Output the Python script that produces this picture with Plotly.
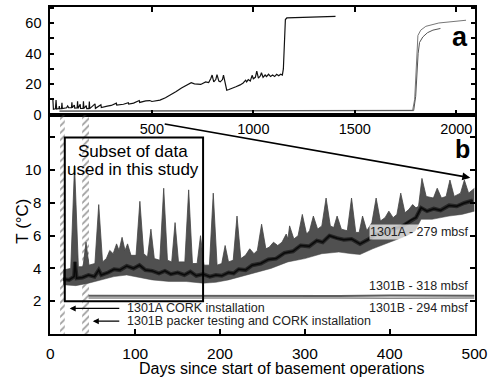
import plotly.graph_objects as go

# ---------------- Panel a data (full record) ----------------
a_black_day = [12, 15, 25, 28, 31, 42, 44, 46, 55, 57, 59, 80, 85, 90, 104, 106, 108, 118, 120, 132, 134, 136,
               147, 149, 161, 163, 165, 177, 179, 190, 192, 194, 220, 222, 249, 251, 280, 300, 325, 327, 360,
               384, 386, 410, 438, 440, 470, 490, 500, 519, 540, 567, 585, 600, 620, 646, 660, 680, 694, 710,
               741, 765, 780, 790, 797, 805, 815, 821, 830, 837, 848, 853, 862, 869, 880, 895, 914, 935, 950,
               962, 967, 975, 985, 994, 1000, 1010, 1017, 1025, 1035, 1040, 1048, 1058, 1065, 1075, 1085, 1095,
               1105, 1115, 1125, 1135, 1143, 1148, 1151, 1154, 1158, 1165, 1250, 1350, 1405]
a_black_T = [10.5, 3.5, 3.8, 9.5, 3.6, 4.0, 5.5, 3.8, 4.0, 7.8, 3.9, 4.5, 5.7, 4.6, 4.5, 8.0, 4.5, 6.3, 4.2, 4.3, 8.8, 4.1,
             6.7, 4.0, 4.0, 8.7, 4.0, 5.9, 3.9, 3.9, 8.5, 3.9, 7.0, 4.1, 6.5, 4.6, 5.6, 6.0, 7.5, 6.3, 6.8,
             7.8, 6.9, 7.5, 9.2, 8.0, 9.0, 9.2, 8.6, 9.2, 9.5, 11.0, 12.3, 13.5, 15.2, 17.5, 18.5, 20.0, 21.0, 20.2,
             19.8, 21.5, 21.0, 23.5, 26.0, 21.5, 23.0, 26.2, 22.0, 21.5, 23.0, 26.0, 20.0, 16.0, 16.5, 17.5, 18.3, 19.5, 20.8,
             22.6, 21.5, 23.0, 22.0, 25.8, 23.5, 24.5, 28.5, 24.0, 25.5, 27.5, 24.5, 26.0, 25.0, 26.5, 25.0, 26.0,
             25.0, 26.5, 25.5, 26.5, 26.0, 30.0, 45.0, 58.0, 62.5, 63.5, 64.0, 64.5, 64.6]

a_grey1_day = [45, 600, 1200, 1785, 1795, 1800, 1805, 1811, 1825, 1850, 1914, 1980, 2048]
a_grey1_T = [2.4, 2.5, 2.6, 2.8, 10.0, 25.0, 40.0, 52.0, 55.5, 58.0, 60.2, 61.3, 62.0]
a_grey2_day = [45, 600, 1200, 1790, 1800, 1806, 1812, 1819, 1835, 1858, 1885, 1922]
a_grey2_T = [2.2, 2.3, 2.4, 2.6, 12.0, 30.0, 40.0, 47.4, 51.0, 53.8, 55.5, 56.6]

# ---------------- Panel b data (first 500 days) ----------------
up_day = [15, 24, 28.5, 33, 38.5, 42, 45.5, 52.5, 57, 61.5, 66, 70, 74, 78, 81, 84.5, 88, 91, 95, 101, 105.5, 110,
          114.5, 118.5, 122.5, 129, 133.6, 138, 143, 147, 151, 158.5, 163, 167.5, 173, 177, 181, 187.5, 192, 196.5,
          202, 206, 210, 215.5, 220, 224.5, 230, 235, 240, 244, 249, 254, 258, 263, 268, 273, 278, 280, 282, 287,
          292, 297, 302, 305.5, 310, 315, 320, 325, 330, 334, 338, 343, 350, 355, 360, 364, 368, 373, 379, 384,
          389, 394.5, 399, 404, 408.5, 413, 418, 422.5, 427, 431, 434, 438, 443, 451.5, 456, 461, 466.5, 471, 476,
          483.5, 488, 493, 500]
up_T = [3.9, 4.0, 10.3, 4.1, 4.1, 5.6, 4.2, 4.3, 7.9, 4.4, 4.6, 5.1, 4.9, 5.5, 5.1, 5.9, 5.1, 5.5, 4.8, 4.8, 8.1, 4.9,
        4.7, 6.4, 4.6, 4.5, 8.9, 4.5, 4.4, 6.8, 4.4, 4.4, 8.8, 4.3, 4.3, 6.0, 4.2, 4.2, 8.6, 4.2,
        4.3, 5.4, 4.4, 4.5, 7.2, 4.6, 4.8, 5.2, 4.9, 5.1, 6.7, 5.2, 5.3, 5.6, 5.4, 5.6, 6.1, 5.8, 6.6, 5.8,
        6.0, 7.3, 6.1, 6.3, 7.2, 6.4, 6.6, 8.3, 6.6, 6.5, 7.2, 6.4, 6.3, 8.3, 6.2, 6.2, 7.2, 6.3, 6.8, 8.3,
        6.9, 7.1, 7.5, 7.1, 7.3, 8.6, 7.4, 7.6, 7.9, 7.7, 7.8, 9.5, 8.4, 8.3, 8.9, 8.3, 8.4, 9.4, 8.4,
        8.6, 9.4, 8.6, 8.9]

lo_day = [15, 30, 45, 60, 75, 90, 100, 120, 140, 160, 180, 195, 210, 225, 240, 260, 280, 300, 320, 340, 355, 365,
          380, 400, 420, 430, 437, 450, 470, 485, 500]
lo_T = [3.0, 2.95, 3.1, 3.3, 3.5, 3.6, 3.5, 3.3, 3.2, 3.2, 3.1, 3.15, 3.3, 3.5, 3.7, 4.0, 4.4, 4.6, 4.9, 5.0, 4.9, 4.85,
        5.2, 5.6, 6.0, 6.3, 7.0, 7.0, 7.2, 7.3, 7.5]

mid_day = [15, 22, 28, 29, 31, 38, 45, 52, 57, 60, 68, 75, 82, 90, 98, 105, 112, 120, 128, 135, 142, 150, 158, 165,
           172, 180, 188, 195, 202, 210, 216, 222, 230, 238, 248, 257, 266, 276, 286, 295, 305, 314, 321, 329, 338,
           346, 355, 365, 374, 384, 394, 403, 414, 425, 431, 437, 444, 452, 460, 470, 479, 488, 498]
mid_T = [3.35, 3.3, 3.5, 4.4, 3.4, 3.45, 3.6, 3.5, 3.9, 3.6, 3.75, 3.95, 3.9, 4.15, 4.0, 4.2, 3.9, 3.85, 3.7, 3.85,
         3.65, 3.75, 3.6, 3.8, 3.55, 3.65, 3.5, 3.6, 3.55, 3.75, 3.7, 3.95, 3.9, 4.2, 4.3, 4.55, 4.6, 4.95, 5.05, 5.4,
         5.35, 5.7, 5.6, 6.0, 5.85, 5.75, 5.8, 5.5, 5.75, 6.1, 6.15, 6.4, 6.55, 6.95, 7.1, 7.7, 7.5, 7.65, 7.55, 7.85,
         7.8, 8.0, 8.15]

b_grey_day = [45, 100, 160, 220, 280, 340, 400, 460, 500]
b_grey1_T = [2.33, 2.32, 2.34, 2.31, 2.33, 2.32, 2.34, 2.33, 2.33]
b_grey2_T = [2.19, 2.2, 2.18, 2.2, 2.19, 2.2, 2.18, 2.2, 2.19]

hatch1 = [11.5, 17]
hatch2 = [37.5, 45.5]
subset_box = [17, 180, 2, 12]

a_xticks = [500, 1000, 1500, 2000]
a_yticks = [0, 10, 20, 30, 40, 50, 60, 70]
a_ytext = ["0", "", "20", "", "40", "", "60", ""]
b_xticks = [0, 100, 200, 300, 400, 500]
b_yticks = [2, 4, 6, 8, 10, 12]
b_ytext = ["2", "4", "6", "8", "10", ""]

FONT = "Liberation Sans, Arial, sans-serif"
W, H = 503, 385
xl, xr = 48, 487
a_top, ab, b_bot = 7, 117, 341

fig = go.Figure()

# hatch bands (panel b)
for hb in (hatch1, hatch2):
    fig.add_trace(go.Scatter(x=[hb[0], hb[1], hb[1], hb[0], hb[0]], y=[0, 0, 13.4, 13.4, 0],
                             fill="toself", mode="lines", line=dict(width=0),
                             fillcolor="rgba(255,255,255,0)",
                             fillpattern=dict(shape="/", fgcolor="#444", bgcolor="rgba(255,255,255,0)",
                                              size=5, solidity=0.35),
                             xaxis="x2", yaxis="y2", hoverinfo="skip", showlegend=False))

# panel a lines
fig.add_trace(go.Scatter(x=a_grey1_day, y=a_grey1_T, mode="lines", line=dict(color="#777", width=1),
                         xaxis="x", yaxis="y", showlegend=False))
fig.add_trace(go.Scatter(x=a_grey2_day, y=a_grey2_T, mode="lines", line=dict(color="#555", width=1),
                         xaxis="x", yaxis="y", showlegend=False))
fig.add_trace(go.Scatter(x=a_black_day, y=a_black_T, mode="lines", line=dict(color="#111", width=1.2),
                         xaxis="x", yaxis="y", showlegend=False))

# panel b grey lines
fig.add_trace(go.Scatter(x=b_grey_day, y=b_grey1_T, mode="lines", line=dict(color="#5e5e5e", width=2),
                         xaxis="x2", yaxis="y2", showlegend=False))
fig.add_trace(go.Scatter(x=b_grey_day, y=b_grey2_T, mode="lines", line=dict(color="#8a8a8a", width=1.5),
                         xaxis="x2", yaxis="y2", showlegend=False))

# panel b band: lower edge then upper edge filled
fig.add_trace(go.Scatter(x=lo_day, y=lo_T, mode="lines", line=dict(color="#4a4a4a", width=0.5),
                         xaxis="x2", yaxis="y2", showlegend=False))
fig.add_trace(go.Scatter(x=up_day, y=up_T, mode="lines", line=dict(color="#444", width=0.8),
                         fill="tonexty", fillcolor="#505050", xaxis="x2", yaxis="y2", showlegend=False))
fig.add_trace(go.Scatter(x=mid_day, y=mid_T, mode="lines", line=dict(color="#262626", width=4),
                         xaxis="x2", yaxis="y2", showlegend=False))
fig.add_trace(go.Scatter(x=mid_day, y=mid_T, mode="lines", line=dict(color="#0a0a0a", width=1.5),
                         xaxis="x2", yaxis="y2", showlegend=False))

base_axis = dict(showline=True, linecolor="black", linewidth=2, ticks="inside", tickcolor="black",
                 tickwidth=1.5, showgrid=False, zeroline=False)

fig.update_layout(
    width=W, height=H, margin=dict(l=0, r=0, t=0, b=0),
    paper_bgcolor="white", plot_bgcolor="white",
    xaxis=dict(domain=[xl / W, xr / W], range=[0, 2090], anchor="y", tickvals=a_xticks,
               mirror="ticks", ticklen=5, tickfont=dict(family=FONT, size=14.5, color="black"), **base_axis),
    yaxis=dict(domain=[1 - ab / H, 1 - a_top / H], range=[0, 70.8], anchor="x", tickvals=a_yticks,
               ticktext=a_ytext, mirror="ticks", ticklen=4, ticklabelstandoff=4,
               tickfont=dict(family=FONT, size=14.5, color="black"), **base_axis),
    xaxis2=dict(domain=[xl / W, xr / W], range=[0, 500], anchor="y2", tickvals=b_xticks, mirror=True,
                ticklen=5, ticklabelstandoff=4, tickfont=dict(family=FONT, size=15.5, color="black"), **base_axis),
    yaxis2=dict(domain=[1 - b_bot / H, 1 - ab / H], range=[0, 13.4], anchor="x2", tickvals=b_yticks,
                ticktext=b_ytext, mirror="ticks", ticklen=5, ticklabelstandoff=4,
                tickfont=dict(family=FONT, size=15, color="black"), **base_axis),
)

fig.add_shape(type="rect", xref="x2", yref="y2", x0=subset_box[0], x1=subset_box[1], y0=subset_box[2],
              y1=subset_box[3], line=dict(color="black", width=2), layer="above")

ann = []
ann.append(dict(xref="x2", yref="y2", x=97, y=11.16, text="Subset of data",
                showarrow=False, xanchor="center", yanchor="middle", font=dict(family=FONT, size=17, color="black")))
ann.append(dict(xref="x2", yref="y2", x=97, y=10.02, text="used in this study",
                showarrow=False, xanchor="center", yanchor="middle", font=dict(family=FONT, size=17, color="black")))
ann.append(dict(xref="x2", yref="y2", x=495, y=6.24, text="1301A - 279 mbsf", showarrow=False,
                xanchor="right", yanchor="middle", bgcolor="rgba(255,255,255,0.7)", borderpad=0,
                font=dict(family=FONT, size=12.5, color="#222")))
ann.append(dict(xref="x2", yref="y2", x=495, y=2.9, text="1301B - 318 mbsf", showarrow=False,
                xanchor="right", yanchor="middle", font=dict(family=FONT, size=12.5, color="#222")))
ann.append(dict(xref="x2", yref="y2", x=495, y=1.56, text="1301B - 294 mbsf", showarrow=False,
                xanchor="right", yanchor="middle", font=dict(family=FONT, size=12.5, color="#222")))
ann.append(dict(xref="x2", yref="y2", x=87.5, y=1.56, text="1301A CORK installation", showarrow=False,
                xanchor="left", yanchor="middle", font=dict(family=FONT, size=12.5, color="#222")))
ann.append(dict(xref="x2", yref="y2", x=87.5, y=0.78, text="1301B packer testing and CORK installation",
                showarrow=False, xanchor="left", yanchor="middle", font=dict(family=FONT, size=12.5, color="#222")))
ann.append(dict(xref="x2", yref="y2", axref="x2", ayref="y2", x=22.8, y=1.56, ax=83, ay=1.56, text="",
                showarrow=True, arrowhead=2, arrowsize=1, arrowwidth=1.2, arrowcolor="black"))
ann.append(dict(xref="x2", yref="y2", axref="x2", ayref="y2", x=50, y=0.78, ax=83, ay=0.78, text="",
                showarrow=True, arrowhead=2, arrowsize=1, arrowwidth=1.2, arrowcolor="black"))
ann.append(dict(xref="x2", yref="y2", axref="x2", ayref="y2", x=495, y=9.54, ax=133, ay=12.84, text="",
                showarrow=True, arrowhead=2, arrowsize=1, arrowwidth=1.6, arrowcolor="black"))
ann.append(dict(xref="paper", yref="paper", x=472 / W, y=1 - 38 / H, text="<b>a</b>", showarrow=False,
                xanchor="center", yanchor="middle", font=dict(family=FONT, size=27, color="black")))
ann.append(dict(xref="paper", yref="paper", x=475 / W, y=1 - 152 / H, text="<b>b</b>", showarrow=False,
                xanchor="center", yanchor="middle", font=dict(family=FONT, size=25, color="black")))
ann.append(dict(xref="paper", yref="paper", x=287 / W, y=1 - 376 / H,
                text="Days since start of basement operations", showarrow=False, xanchor="center",
                yanchor="middle", font=dict(family=FONT, size=16, color="black")))
ann.append(dict(xref="paper", yref="paper", x=19 / W, y=1 - 226 / H, text="T (°C)", textangle=-90,
                showarrow=False, xanchor="center", yanchor="middle", font=dict(family=FONT, size=17, color="black")))
fig.update_layout(annotations=ann)

fig.write_html("out.html")
